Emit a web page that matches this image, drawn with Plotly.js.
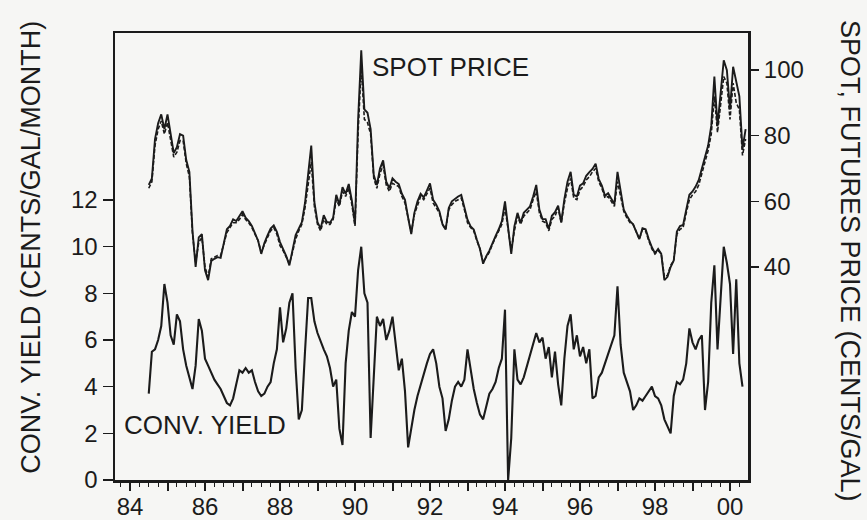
<!DOCTYPE html>
<html>
<head>
<meta charset="utf-8">
<script src="https://cdn.plot.ly/plotly-3.0.1.min.js"></script>
<style>
  html, body { margin: 0; padding: 0; background: #f6f6f4; }
  #chart { width: 867px; height: 520px; }
</style>
</head>
<body>
<div id="chart"></div>
<script>
// heating oil: spot / futures price (right axis) and convenience yield (left axis)
// monthly readings, starting mid-1984
const startYear = 84.5;
const stepYear = 1 / 12;

const spotPrice = [
  65, 67, 79, 83.8, 86.5, 82, 86.5, 80, 74.7, 76.5, 80.5, 80,
  72.6, 69, 51, 40, 49, 50, 39, 36, 41.8, 42.5, 43, 42.8,
  47.6, 51.5, 52.5, 54.5, 54, 55.5, 57, 55, 54, 52.5, 50.5, 48,
  44, 47.3, 49.6, 51.7, 52.7, 50.7, 47.6, 45.6, 43.3, 40.5, 45, 49.7,
  51.7, 53.7, 59.5, 68, 77, 59.8, 53.7, 51.7, 55.8, 53.7, 53.5, 55,
  62, 59, 64.3, 62.3, 65.3, 60.2, 53, 85, 106, 88, 87, 82,
  68, 65, 70, 72.5, 66, 64, 67, 66, 65.3, 62.3, 60.5, 55,
  50, 56.5, 60, 62.3, 61.2, 63.3, 65.5, 60.5, 59, 57, 53, 51.4,
  58, 60, 60.8, 61.5, 62, 58, 54.4, 52.4, 51.4, 48.3, 45.5, 41,
  43.3, 45, 47.5, 49.5, 51.5, 54, 60, 51, 44, 52.4, 56.5, 53.4,
  56.5, 57.5, 58.5, 61.5, 65, 57.5, 54.6, 54.6, 51.6, 55.6, 56.7, 58.7,
  53.5, 60.7, 66, 69, 62, 61.5, 64.8, 65.5, 67.8, 68.9, 69.9, 71.5,
  66.8, 64.8, 61.7, 62.5, 61, 59.2, 69, 62.8, 57.5, 55.6, 54, 53,
  50.5, 48.5, 51.8, 51.5, 48.5, 46, 44.2, 45.5, 44, 36, 37, 40,
  42, 50.8, 52.5, 52.8, 57.5, 62, 63, 64.5, 66.5, 70, 73.5, 77,
  83, 98, 83, 94, 103, 100, 88, 101, 96, 92, 76, 82
];

const futuresPrice = [
  64, 66, 77, 82, 84.5, 80.5, 84, 78.5, 73.5, 75, 78.5, 78.5,
  71.5, 67.5, 50, 41.5, 47.5, 49, 40, 37, 42.5, 43, 43.5, 43.5,
  47, 50.5, 52, 53.5, 53.5, 54.5, 56, 54.5, 53.5, 52, 50, 48,
  44.5, 47, 49, 51, 52, 50, 46.5, 45, 43, 41, 44.5, 48.5,
  51, 53, 58, 65, 72, 58.5, 53, 51, 54.5, 53, 53, 54.5,
  60.5, 58.5, 63, 61.5, 64, 59, 52.5, 81, 101, 85, 84, 80.5,
  67, 64, 68.5, 71, 65, 63, 65.5, 65, 64.5, 61.5, 59.5, 55,
  50.5, 56, 59, 61.5, 60.5, 62.5, 64, 59.5, 58, 56.5, 53, 51.5,
  57.5, 59, 60, 60.5, 61, 57.5, 53.5, 52, 51, 48, 45.5, 41.5,
  43, 44.5, 47, 49, 50.5, 53, 58, 51.5, 45, 51, 55.5, 53,
  55.5, 56.5, 57.5, 60.5, 63, 56.5, 54, 53.5, 51, 54.5, 55.5, 58,
  53.5, 59.5, 64, 67, 61, 60.5, 63.5, 64.5, 66.5, 67.5, 69, 70,
  66, 64, 61, 61.5, 60, 58.5, 66, 61.5, 57, 55, 53.5, 53,
  50.5, 48.5, 51.5, 51, 48, 45.5, 44, 45, 44, 37, 37.5, 40.5,
  42, 50, 51.5, 52, 56.5, 60.5, 62, 63, 65, 68.5, 72.5, 75.5,
  80.5, 92, 81, 90, 98, 96, 85, 96, 90, 88, 74, 79
];

const convYield = [
  3.7, 5.5, 5.6, 6.0, 6.6, 8.4, 7.6, 6.2, 5.8, 7.1, 6.8, 5.6,
  4.9, 4.4, 3.9, 4.9, 6.9, 6.4, 5.2, 4.9, 4.6, 4.3, 4.1, 3.9,
  3.6, 3.3, 3.2, 3.5, 4.1, 4.7, 4.6, 4.8, 4.6, 4.7, 4.2, 3.8,
  3.6, 3.7, 4.0, 4.2, 5.0, 5.6, 7.4, 5.9, 6.5, 7.6, 8.0, 4.8,
  2.6, 3.0, 5.5, 7.8, 7.8, 6.8, 6.3, 5.9, 5.6, 5.3, 4.8, 4.0,
  4.3, 2.2, 1.5, 5.0, 6.4, 7.2, 7.0, 9.0, 10.0, 8.0, 7.6, 1.8,
  4.6, 7.0, 6.6, 6.9, 6.0, 6.4, 7.0, 5.8, 4.7, 5.2, 3.8, 1.4,
  2.2, 3.0, 3.6, 4.1, 4.5, 5.0, 5.4, 5.6, 5.0, 4.0, 3.5, 2.1,
  2.6, 3.4, 4.0, 4.2, 4.0, 4.3, 5.6, 4.8, 3.9, 3.3, 2.8, 2.6,
  3.2, 3.7, 3.9, 4.2, 4.8, 5.2, 7.3, 0.0, 1.8, 5.6, 4.3, 4.1,
  4.4, 4.9, 5.3, 5.8, 6.3, 5.9, 6.1, 5.2, 5.7, 4.4, 5.5, 4.1,
  3.2, 5.2, 6.6, 7.1, 5.6, 6.2, 5.3, 5.7, 5.0, 5.6, 3.5, 3.6,
  4.4, 4.6, 5.0, 5.3, 5.7, 6.2, 8.3, 5.8, 4.6, 4.2, 3.8, 3.0,
  3.2, 3.5, 3.4, 3.6, 3.8, 4.0, 3.6, 3.5, 3.2, 2.6, 2.3, 2.0,
  3.6, 4.2, 4.1, 4.3, 5.0, 6.5, 5.9, 5.6, 6.0, 6.2, 3.0, 4.2,
  7.6, 9.2, 5.6, 7.8, 10.0, 9.3, 8.4, 5.4, 8.6, 5.0, 4.0
];

const yearTicks = [84, 85, 86, 87, 88, 89, 90, 91, 92, 93, 94, 95, 96, 97, 98, 99, 100];
const yearLabels = ["84", "", "86", "", "88", "", "90", "", "92", "", "94", "", "96", "", "98", "", "00"];
const yieldTicks = [0, 2, 4, 6, 8, 10, 12];
const priceTicks = [40, 60, 80, 100];

const ink = "#1b1b1b";
const months = spotPrice.map((_, i) => startYear + i * stepYear);

const traces = [
  {
    x: months, y: spotPrice, yaxis: "y2",
    type: "scatter", mode: "lines", name: "Spot",
    line: { color: ink, width: 1.9 }
  },
  {
    x: months, y: futuresPrice, yaxis: "y2",
    type: "scatter", mode: "lines", name: "Futures",
    line: { color: ink, width: 1.6, dash: "4px,2px" }
  },
  {
    x: months.slice(0, convYield.length), y: convYield,
    type: "scatter", mode: "lines", name: "Conv. yield",
    line: { color: ink, width: 2.1 }
  }
];

const tickFont = { family: "Liberation Sans, Arial, sans-serif", size: 24, color: ink };
const labelFont = { family: "Liberation Sans, Arial, sans-serif", size: 26, color: ink };
const titleFont = { family: "Liberation Sans, Arial, sans-serif", size: 27, color: ink };

const layout = {
  width: 867, height: 520,
  paper_bgcolor: "#f6f6f4", plot_bgcolor: "#f6f6f4",
  margin: { l: 115, r: 119, t: 33, b: 40 },
  showlegend: false,
  xaxis: {
    range: [83.6, 100.48],
    tickmode: "array", tickvals: yearTicks, ticktext: yearLabels,
    ticks: "outside", ticklen: 8, tickwidth: 2, tickcolor: ink,
    ticklabelstandoff: -4,
    minor: { tickmode: "linear", tick0: 84, dtick: 0.25, ticks: "outside", ticklen: 4, tickwidth: 1.2, tickcolor: ink, showgrid: false },
    showline: true, mirror: true, linewidth: 2.5, linecolor: ink,
    showgrid: false, zeroline: false,
    tickfont: tickFont
  },
  yaxis: {
    range: [0, 19.16],
    tickmode: "array", tickvals: yieldTicks,
    ticks: "outside", ticklen: 10, tickwidth: 1.5, tickcolor: ink,
    showline: true, mirror: true, linewidth: 2.5, linecolor: ink,
    showgrid: false, zeroline: false,
    tickfont: tickFont
  },
  yaxis2: {
    overlaying: "y", side: "right",
    range: [-24.9, 111.3],
    tickmode: "array", tickvals: priceTicks,
    ticks: "outside", ticklen: 10, tickwidth: 1.5, tickcolor: ink,
    showline: false, showgrid: false, zeroline: false,
    tickfont: tickFont
  },
  annotations: [
    { xref: "x", yref: "y", x: 90.4, y: 17.7, xanchor: "left", yanchor: "middle",
      text: "SPOT PRICE", showarrow: false, font: labelFont },
    { xref: "x", yref: "y", x: 83.78, y: 2.35, xanchor: "left", yanchor: "middle",
      text: "CONV. YIELD", showarrow: false, font: labelFont },
    { xref: "paper", yref: "paper", x: -0.134, y: 0.52, xanchor: "center", yanchor: "middle",
      text: "CONV. YIELD (CENTS/GAL/MONTH)", textangle: -90, showarrow: false, font: titleFont },
    { xref: "paper", yref: "paper", x: 1.161, y: 0.49, xanchor: "center", yanchor: "middle",
      text: "SPOT, FUTURES PRICE (CENTS/GAL)", textangle: 90, showarrow: false, font: titleFont }
  ]
};

Plotly.newPlot("chart", traces, layout, { displayModeBar: false, staticPlot: true });
</script>
</body>
</html>
